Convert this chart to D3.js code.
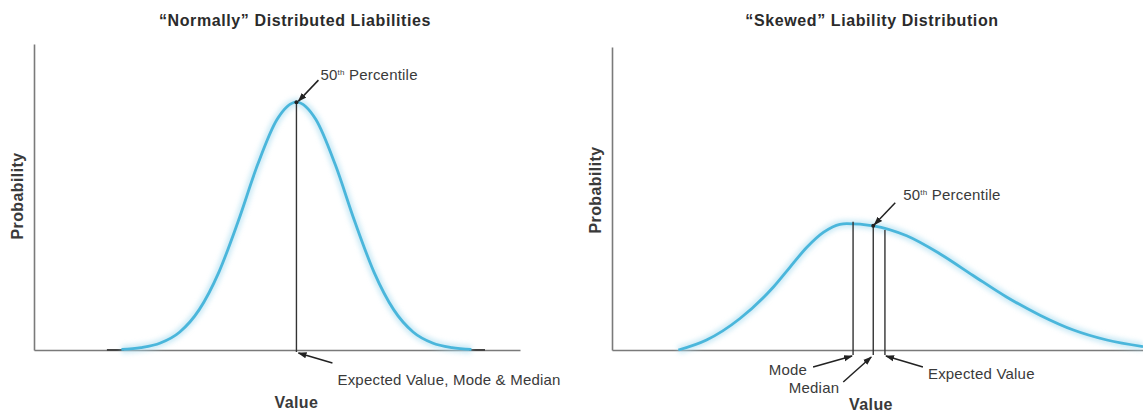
<!DOCTYPE html>
<html lang="en">
<head>
  <meta charset="UTF-8">
  <title>Normal vs Skewed Liability Distributions</title>
  <script src="https://d3js.org/d3.v7.min.js"></script>
  <style>
    body {
      margin: 0;
      background: #fff;
      font-family: "Liberation Sans", Arial, sans-serif;
    }
    svg { display: block; }
    .title { font-size: 16px; font-weight: bold; fill: #2b2b2b; letter-spacing: 0.6px; }
    .axis-label { font-size: 16px; font-weight: bold; fill: #3a3a3a; letter-spacing: 0.4px; }
    .note { font-size: 15px; fill: #3a3a3a; letter-spacing: 0.2px; }
    .axis path { stroke: #7a7a7a; stroke-width: 1.6; }
  </style>
</head>
<body>
  <svg width="1143" height="415"></svg>
  <script>
  // Left panel: symmetric ("normal") curve
  const normalValue = [18, 22, 26, 30, 34, 38, 42, 46, 50, 54, 58, 62, 66, 70, 74, 78, 82, 86, 90];
  const normalProb  = [0.2, 0.8, 2.3, 5.9, 13.2, 25.3, 42, 60.5, 75.3, 81, 75.3, 60.5, 42, 25.3, 13.2, 5.9, 2.3, 0.8, 0.2];
  const normalMean = 54;

  // Right panel: right-skewed curve
  const skewValue = [12.5, 17.8, 24.1, 30.4, 33.5, 36.7, 39.8, 42.9, 44.2, 49.2, 55.5, 61.8, 68.0, 74.3, 80.6, 86.9, 93.2, 100];
  const skewProb  = [0, 3.3, 10.4, 20.8, 27.3, 33.9, 38.8, 41.5, 41.7, 41.0, 37.7, 31.7, 24.6, 17.5, 11.5, 6.6, 3.3, 1.1];

  // Mode, median, expected value of the skewed curve
  const markerNames = ["Mode", "Median", "Expected Value"];
  const markerValue = [45.4, 49.2, 51.4];
  const markerTop   = [42.3, 41.0, 39.6];

  const svg = d3.select("svg");
  const blue = "#4ab6db";

  // soft halo under the blue curves
  const defs = svg.append("defs");
  defs.append("filter").attr("id", "glow")
      .append("feGaussianBlur").attr("stdDeviation", 2.5);
  const arrow = defs.append("marker")
      .attr("id", "arrow").attr("viewBox", "0 0 10 10")
      .attr("refX", 9).attr("refY", 5)
      .attr("markerWidth", 6).attr("markerHeight", 6)
      .attr("orient", "auto-start-reverse");
  arrow.append("path").attr("d", "M0,1.5L10,5L0,8.5z").attr("fill", "#222");

  function drawCurve(g, xs, ys, vals, probs) {
    const line = d3.line()
        .x((d, i) => xs(vals[i]))
        .y(d => ys(d))
        .curve(d3.curveMonotoneX);
    g.append("path").datum(probs)
        .attr("d", line).attr("fill", "none")
        .attr("stroke", "#a9dcef").attr("stroke-width", 8)
        .attr("opacity", 0.6).attr("filter", "url(#glow)");
    g.append("path").datum(probs)
        .attr("d", line).attr("fill", "none")
        .attr("stroke", blue).attr("stroke-width", 2.8);
  }

  function drawAxes(g, xs, ys) {
    g.append("g").attr("class", "axis")
        .attr("transform", `translate(0,${ys(0)})`)
        .call(d3.axisBottom(xs).ticks(0).tickSizeOuter(0));
    g.append("g").attr("class", "axis")
        .attr("transform", `translate(${xs.range()[0]},0)`)
        .call(d3.axisLeft(ys).ticks(0).tickSizeOuter(0));
  }

  function pointer(g, x1, y1, x2, y2) {
    g.append("line")
        .attr("x1", x1).attr("y1", y1).attr("x2", x2).attr("y2", y2)
        .attr("stroke", "#222").attr("stroke-width", 1.5)
        .attr("marker-end", "url(#arrow)");
  }

  function fiftieth(g, x, y) {
    const t = g.append("text").attr("class", "note").attr("x", x).attr("y", y);
    t.append("tspan").text("50");
    t.append("tspan").text("th").attr("font-size", "8px").attr("dy", -5);
    t.append("tspan").text(" Percentile").attr("dy", 5);
  }

  // ---------- left panel ----------
  const xL = d3.scaleLinear().domain([0, 100]).range([34, 520]);
  const yL = d3.scaleLinear().domain([0, 100]).range([350, 44]);
  const left = svg.append("g");

  drawAxes(left, xL, yL);
  // small dark ends of the curve along the baseline
  left.append("line").attr("x1", xL(15)).attr("x2", xL(18.5))
      .attr("y1", yL(0)).attr("y2", yL(0)).attr("stroke", "#444").attr("stroke-width", 2);
  left.append("line").attr("x1", xL(89.5)).attr("x2", xL(92.8))
      .attr("y1", yL(0)).attr("y2", yL(0)).attr("stroke", "#444").attr("stroke-width", 2);
  drawCurve(left, xL, yL, normalValue, normalProb);

  left.append("line")
      .attr("x1", xL(normalMean)).attr("x2", xL(normalMean))
      .attr("y1", yL(81)).attr("y2", yL(0) + 2)
      .attr("stroke", "#333").attr("stroke-width", 1.4);
  left.append("circle").attr("cx", xL(normalMean)).attr("cy", yL(81)).attr("r", 2).attr("fill", "#222");

  pointer(left, xL(normalMean) + 22, yL(81) - 22, xL(normalMean) + 2, yL(81) - 1);
  fiftieth(left, xL(normalMean) + 24, yL(81) - 22);
  pointer(left, xL(normalMean) + 36, yL(0) + 13, xL(normalMean) + 2, yL(0) + 3);
  left.append("text").attr("class", "note")
      .attr("x", xL(normalMean) + 41).attr("y", yL(0) + 35)
      .text("Expected Value, Mode & Median");

  left.append("text").attr("class", "title")
      .attr("x", 295).attr("y", 26).attr("text-anchor", "middle")
      .text("\u201cNormally\u201d Distributed Liabilities");
  left.append("text").attr("class", "axis-label")
      .attr("x", xL(normalMean)).attr("y", 408).attr("text-anchor", "middle")
      .text("Value");
  left.append("text").attr("class", "axis-label")
      .attr("transform", "translate(23,196) rotate(-90)").attr("text-anchor", "middle")
      .text("Probability");

  // ---------- right panel ----------
  const xR = d3.scaleLinear().domain([0, 100]).range([612, 1143]);
  const yR = d3.scaleLinear().domain([0, 100]).range([350, 47]);
  const right = svg.append("g");

  drawAxes(right, xR, yR);
  drawCurve(right, xR, yR, skewValue, skewProb);

  right.selectAll("line.marker")
      .data(markerValue)
      .join("line").attr("class", "marker")
      .attr("x1", d => xR(d)).attr("x2", d => xR(d))
      .attr("y1", (d, i) => yR(markerTop[i])).attr("y2", yR(0) + 5)
      .attr("stroke", "#333").attr("stroke-width", 1.4);
  right.append("circle").attr("cx", xR(markerValue[1])).attr("cy", yR(markerTop[1])).attr("r", 2).attr("fill", "#222");

  pointer(right, xR(markerValue[1]) + 22, yR(markerTop[1]) - 23, xR(markerValue[1]) + 1, yR(markerTop[1]) - 1);
  fiftieth(right, xR(markerValue[1]) + 30, yR(markerTop[1]) - 26);

  // arrows from each label into the foot of its line
  pointer(right, xR(markerValue[0]) - 40, yR(0) + 17, xR(markerValue[0]) - 1, yR(0) + 6);
  right.append("text").attr("class", "note").attr("text-anchor", "end")
      .attr("x", xR(markerValue[0]) - 46).attr("y", yR(0) + 25).text(markerNames[0]);
  pointer(right, xR(markerValue[1]) - 30, yR(0) + 32, xR(markerValue[1]) - 2, yR(0) + 7);
  right.append("text").attr("class", "note").attr("text-anchor", "end")
      .attr("x", xR(markerValue[1]) - 34).attr("y", yR(0) + 43).text(markerNames[1]);
  pointer(right, xR(markerValue[2]) + 38, yR(0) + 17, xR(markerValue[2]) + 1, yR(0) + 6);
  right.append("text").attr("class", "note")
      .attr("x", xR(markerValue[2]) + 43).attr("y", yR(0) + 29).text(markerNames[2]);

  right.append("text").attr("class", "title")
      .attr("x", 872).attr("y", 26).attr("text-anchor", "middle")
      .text("\u201cSkewed\u201d Liability Distribution");
  right.append("text").attr("class", "axis-label")
      .attr("x", 871).attr("y", 410).attr("text-anchor", "middle")
      .text("Value");
  right.append("text").attr("class", "axis-label")
      .attr("transform", "translate(601,190) rotate(-90)").attr("text-anchor", "middle")
      .text("Probability");
  </script>
</body>
</html>
